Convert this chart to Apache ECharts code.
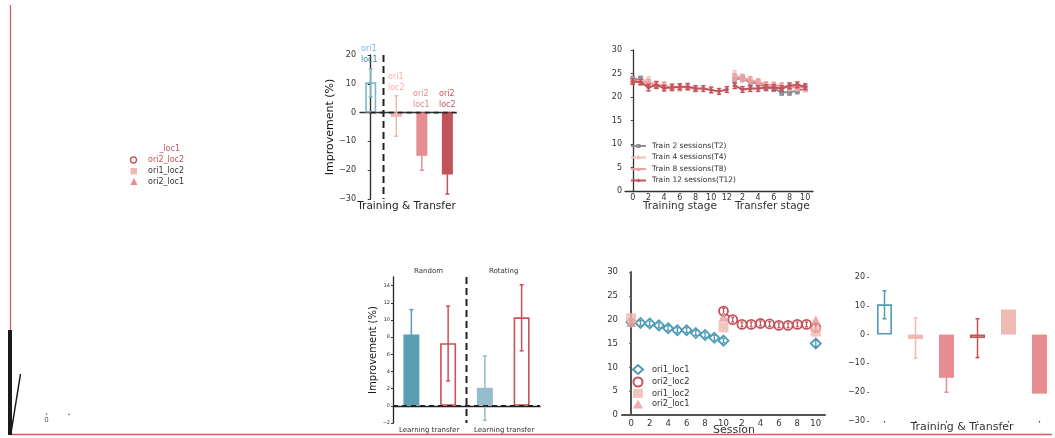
<!DOCTYPE html>
<html><head><meta charset="utf-8">
<script src="https://cdn.jsdelivr.net/npm/echarts@6/dist/echarts.min.js"></script>
<style>html,body{margin:0;padding:0;background:#fff}#c{width:1055px;height:438px}</style>
</head><body><div id="c"></div>
<script>
// ---------- Panel A : Training & Transfer (top) ----------
const aCats = ['ori1 loc1', 'ori1 loc2', 'ori2 loc1', 'ori2 loc2'];
const aPos = [0, 1, 2, 3];
const aVals = [10.5, -1.5, -15, -21.5];
const aLow = [5.5, -8.2, -20, -28.3];
const aHigh = [15.2, 5.8, -10, -14.7];

// ---------- Panel B : training / transfer curves ----------
const bTrainSessions = [0, 1, 2, 3, 4, 5, 6, 7, 8, 9, 10, 11, 12];
const bTransferSessions = [1, 2, 3, 4, 5, 6, 7, 8, 9, 10];
const bNames = ['Train 2 sessions(T2)', 'Train 4 sessions(T4)', 'Train 8 sessions(T8)', 'Train 12 sessions(T12)'];
const t2Train = [23.8, 23.8, 23.0];
const t2TrainErr = [0.6, 0.6, 0.6];
const t2Transfer = [23.8, 24.0, 23.0, 23.0, 22.0, 21.8, 21.0, 21.0, 21.3, 21.8];
const t2TransferErr = [0.8, 0.7, 0.7, 0.6, 0.6, 0.6, 0.6, 0.6, 0.6, 0.6];
const t4Train = [23.3, 23.3, 23.6, 22.5, 22.6];
const t4TrainErr = [0.6, 0.6, 0.7, 0.7, 0.6];
const t4Transfer = [24.8, 23.9, 23.6, 23.3, 22.6, 22.6, 22.3, 22.0, 22.0, 21.8];
const t4TransferErr = [0.8, 0.7, 0.7, 0.6, 0.6, 0.6, 0.6, 0.6, 0.6, 0.7];
const t8Train = [23.4, 23.2, 23.0, 22.5, 22.4, 22.1, 22.0, 22.2, 21.8];
const t8TrainErr = [0.6, 0.6, 0.7, 0.7, 0.7, 0.7, 0.7, 0.7, 0.6];
const t8Transfer = [24.2, 24.1, 23.6, 23.1, 22.6, 22.4, 22.4, 22.1, 22.2, 22.0];
const t8TransferErr = [0.7, 0.7, 0.7, 0.6, 0.6, 0.6, 0.6, 0.6, 0.6, 0.6];
const t12Train = [23.3, 23.2, 22.0, 22.6, 21.9, 22.0, 22.2, 22.2, 21.8, 21.8, 21.5, 21.2, 21.6];
const t12TrainErr = [0.6, 0.6, 0.7, 0.7, 0.6, 0.6, 0.6, 0.6, 0.6, 0.6, 0.6, 0.6, 0.6];
const t12Transfer = [22.4, 21.6, 21.8, 21.8, 22.0, 22.0, 21.8, 22.4, 22.6, 22.2];
const t12TransferErr = [0.6, 0.6, 0.6, 0.6, 0.6, 0.6, 0.6, 0.6, 0.6, 0.6];

// ---------- Panel C : Random / Rotating ----------
const cCats = ['Random learning', 'Random transfer', 'Rotating learning', 'Rotating transfer'];
const cVals = [8.3, 7.3, 2.1, 10.3];
const cLow = [5.4, 2.9, -1.7, 6.4];
const cHigh = [11.2, 11.6, 5.8, 14.1];

// ---------- Panel D : sessions ----------
const dTrainSessions = [0, 1, 2, 3, 4, 5, 6, 7, 8, 9, 10];
const dTransferSessions = [1, 2, 3, 4, 5, 6, 7, 8, 9, 10];
const dNames = ['ori1_loc1', 'ori2_loc2', 'ori1_loc2', 'ori2_loc1'];
const ori1loc1Train = [19.5, 19.3, 19.2, 18.8, 18.2, 17.8, 17.8, 17.2, 16.8, 16.2, 15.6];
const ori1loc1TrainErr = [0.6, 0.5, 0.5, 0.5, 0.5, 0.5, 0.5, 0.5, 0.5, 0.5, 0.5];
const ori1loc1Post = 15.0, ori1loc1PostErr = 0.6;
const ori2loc2Mid = 21.8, ori2loc2MidErr = 0.6;
const ori2loc2Transfer = [20.0, 19.0, 19.0, 19.2, 19.1, 18.8, 18.8, 19.0, 19.0, 18.3];
const ori2loc2TransferErr = [0.5, 0.5, 0.5, 0.5, 0.5, 0.5, 0.5, 0.5, 0.5, 0.6];
const ori1loc2Tests = [20.3, 18.4, 17.5];   // pre, mid, post
const ori2loc1Tests = [19.5, 20.6, 19.9];   // pre, mid, post

// ---------- Panel E : Training & Transfer (bottom) ----------
const eCats = ['ori1_loc1', 'ori1_loc2', 'ori2_loc1', 'ori2_loc2', 'ori1_loc2 b', 'ori2_loc1 b'];
const eVals = [10.5, -1.5, -15, -1.2, 8.7, -20.5];
const eLow = [5.5, -8.2, -20, -8.0, null, null];
const eHigh = [15.2, 5.8, -10, 5.5, null, null];

// ---------- helpers ----------
const FONT = 'DejaVu Sans';
const BLUE = '#4f9bb5', LBLUE = '#7db7ca', PALE = '#f2b7b0', PINK = '#e78d91', RED = '#c4525a', GRAY = '#8a8f98';
const minus = v => String(v).replace('-', '\u2212');

function errSeries(xi, yi, xs, lo, hi, color, cap, w, z) {
  const data = [];
  xs.forEach((x, i) => { if (lo[i] != null) data.push([x, lo[i], hi[i]]); });
  return {
    type: 'custom', xAxisIndex: xi, yAxisIndex: yi, z: z, silent: true,
    encode: { x: 0, y: [1, 2] }, data,
    renderItem(params, api) {
      const x = api.value(0);
      const p1 = api.coord([x, api.value(1)]);
      const p2 = api.coord([x, api.value(2)]);
      const st = { stroke: color, lineWidth: w };
      return { type: 'group', children: [
        { type: 'line', shape: { x1: p1[0], y1: p1[1], x2: p2[0], y2: p2[1] }, style: st },
        { type: 'line', shape: { x1: p1[0] - cap, y1: p1[1], x2: p1[0] + cap, y2: p1[1] }, style: st },
        { type: 'line', shape: { x1: p2[0] - cap, y1: p2[1], x2: p2[0] + cap, y2: p2[1] }, style: st }
      ]};
    }
  };
}
function vDash(xi, yi, x, halfBand) {
  return {
    type: 'custom', xAxisIndex: xi, yAxisIndex: yi, z: 5, silent: true, data: [[x, 0]],
    renderItem(params, api) {
      const cs = params.coordSys;
      let px = api.coord([api.value(0), 0])[0];
      if (halfBand) px += api.size([1, 0])[0] / 2;
      return { type: 'line', shape: { x1: px, y1: cs.y, x2: px, y2: cs.y + cs.height },
        style: { stroke: '#222', lineWidth: 2, lineDash: [7, 4] } };
    }
  };
}
function hDash(xi, yi, xStart, extendRight) {
  return {
    type: 'custom', xAxisIndex: xi, yAxisIndex: yi, z: 5, silent: true, data: [[xStart, 0]],
    renderItem(params, api) {
      const cs = params.coordSys;
      const p = api.coord([api.value(0), 0]);
      const x1 = xStart == null ? cs.x : p[0];
      return { type: 'line', shape: { x1: x1, y1: p[1], x2: cs.x + cs.width + extendRight, y2: p[1] },
        style: { stroke: '#222', lineWidth: 1.8, lineDash: [5, 4] } };
    }
  };
}
const hollow = c => ({ color: 'rgba(0,0,0,0)', borderColor: c, borderWidth: 1.6 });
const filled = c => ({ color: c });

// build B series
const bTransferOffset = 12;
function bData(train, transfer) {
  const d = train.map((v, i) => [bTrainSessions[i], v]);
  d.push([12.5, '-']);
  transfer.forEach((v, i) => d.push([bTransferSessions[i] + bTransferOffset, v]));
  return d;
}
function bX(train, transfer) {
  return train.map((v, i) => bTrainSessions[i]).concat(transfer.map((v, i) => bTransferSessions[i] + bTransferOffset));
}
function bLo(m, e) { return m.map((v, i) => v - e[i]); }
function bHi(m, e) { return m.map((v, i) => v + e[i]); }
const bSets = [
  [t2Train, t2TrainErr, t2Transfer, t2TransferErr, GRAY, 'rect', 5],
  [t4Train, t4TrainErr, t4Transfer, t4TransferErr, '#f4c0bb', 'circle', 5],
  [t8Train, t8TrainErr, t8Transfer, t8TransferErr, '#ec9ea0', 'triangle', 6],
  [t12Train, t12TrainErr, t12Transfer, t12TransferErr, RED, 'diamond', 5]
];
const bSeries = [];
bSets.forEach((s, k) => {
  const [tr, tre, tf, tfe, col, sym, sz] = s;
  bSeries.push({
    name: bNames[k], type: 'line', xAxisIndex: 1, yAxisIndex: 1, z: 3 + k,
    data: bData(tr, tf), symbol: sym, symbolSize: sz, connectNulls: false,
    lineStyle: { color: col, width: 2 }, itemStyle: { color: col }
  });
  bSeries.push(errSeries(1, 1, bX(tr, tf), bLo(tr, tre).concat(bLo(tf, tfe)), bHi(tr, tre).concat(bHi(tf, tfe)), col, 2.2, 1.5, 3 + k));
});

// D series
const dTransferOffset = 10;
const dTestX = [0, 10, 20];
const d1Data = ori1loc1Train.map((v, i) => [dTrainSessions[i], v]).concat([[15, '-'], [dTransferSessions[9] + dTransferOffset, ori1loc1Post]]);
const d1X = dTrainSessions.concat([dTransferSessions[9] + dTransferOffset]);
const d1Lo = ori1loc1Train.map((v, i) => v - ori1loc1TrainErr[i]).concat([ori1loc1Post - ori1loc1PostErr]);
const d1Hi = ori1loc1Train.map((v, i) => v + ori1loc1TrainErr[i]).concat([ori1loc1Post + ori1loc1PostErr]);
const d2Data = [[dTrainSessions[10], ori2loc2Mid]].concat(ori2loc2Transfer.map((v, i) => [dTransferSessions[i] + dTransferOffset, v]));
const d2X = [dTrainSessions[10]].concat(dTransferSessions.map(s => s + dTransferOffset));
const d2Lo = [ori2loc2Mid - ori2loc2MidErr].concat(ori2loc2Transfer.map((v, i) => v - ori2loc2TransferErr[i]));
const d2Hi = [ori2loc2Mid + ori2loc2MidErr].concat(ori2loc2Transfer.map((v, i) => v + ori2loc2TransferErr[i]));

const axText = { fontFamily: FONT, color: '#333' };
const plain = (size, color) => ({ fontFamily: FONT, fontSize: size, fontWeight: 'normal', color: color });

const option = {
  animation: false,
  backgroundColor: '#fff',
  textStyle: { fontFamily: FONT },
  grid: [
    { left: 360, top: 55, width: 93, height: 144 },
    { left: 625, top: 50, width: 188, height: 141 },
    { left: 393, top: 277, width: 147, height: 146 },
    { left: 622, top: 272, width: 203, height: 143 },
    { left: 869, top: 277, width: 194, height: 144 }
  ],
  xAxis: [
    { gridIndex: 0, type: 'value', min: -0.42, max: 3.22, splitLine: { show: false },
      axisLine: { lineStyle: { color: '#333', width: 1.4 } }, axisTick: { show: false }, axisLabel: { show: false },
      name: 'Training & Transfer', nameLocation: 'middle', nameGap: 2,
      nameTextStyle: { fontFamily: FONT, fontSize: 10.5, color: '#222', verticalAlign: 'top' } },
    { gridIndex: 1, type: 'value', min: -1, max: 23, interval: 1, splitLine: { show: false },
      axisLine: { onZero: false, lineStyle: { color: '#333', width: 1.3 } },
      axisTick: { show: false },
      axisLabel: { ...axText, fontSize: 8, margin: 3, showMinLabel: false, showMaxLabel: false,
        formatter: v => (v >= 0 && v <= 12 && v % 2 === 0) ? String(v) : ((v > 12 && (v - bTransferOffset) % 2 === 0) ? String(v - bTransferOffset) : '') } },
    { gridIndex: 2, type: 'category', data: cCats, axisLine: { lineStyle: { color: '#222', width: 1.3 } },
      axisTick: { show: false }, axisLabel: { show: false } },
    { gridIndex: 3, type: 'value', min: -1, max: 21, interval: 1, splitLine: { show: false },
      axisLine: { onZero: false, lineStyle: { color: '#555', width: 2 } }, axisTick: { show: false },
      axisLabel: { ...axText, fontSize: 8.5, margin: 4, showMinLabel: false, showMaxLabel: false,
        formatter: v => (v >= 0 && v <= 10 && v % 2 === 0) ? String(v) : ((v > 10 && (v - dTransferOffset) % 2 === 0) ? String(v - dTransferOffset) : '') } },
    { gridIndex: 4, type: 'category', data: eCats, axisLine: { show: false, onZero: false },
      axisTick: { show: true, alignWithLabel: true, interval: 0, length: 1.5, lineStyle: { color: '#444', width: 1.2 } },
      axisLabel: { show: false, interval: 0 },
      name: 'Training & Transfer', nameLocation: 'middle', nameGap: 1,
      nameTextStyle: { fontFamily: FONT, fontSize: 11, color: '#333', verticalAlign: 'top' } }
  ],
  yAxis: [
    { gridIndex: 0, type: 'value', min: -30, max: 20, interval: 10, splitLine: { show: false },
      axisLine: { show: true, lineStyle: { color: '#333', width: 1.4 } },
      axisTick: { show: true, length: 3, lineStyle: { color: '#333' } },
      axisLabel: { ...axText, fontSize: 8, margin: 4, formatter: minus },
      name: 'Improvement (%)', nameLocation: 'middle', nameGap: 23,
      nameTextStyle: { fontFamily: FONT, fontSize: 11, color: '#111' } },
    { gridIndex: 1, type: 'value', min: 0, max: 30, interval: 5, splitLine: { show: false },
      axisLine: { show: true, lineStyle: { color: '#333', width: 1.3 } },
      axisTick: { show: true, length: 2, lineStyle: { color: '#333' } },
      axisLabel: { ...axText, fontSize: 8, margin: 3 } },
    { gridIndex: 2, type: 'value', min: -2, max: 15, interval: 2, splitLine: { show: false },
      axisLine: { show: true, lineStyle: { color: '#222', width: 1.3 } },
      axisTick: { show: true, length: 2, lineStyle: { color: '#333' } },
      axisLabel: { ...axText, fontSize: 5, margin: 3, showMaxLabel: false, formatter: minus },
      name: 'Improvement (%)', nameLocation: 'middle', nameGap: 11,
      nameTextStyle: { fontFamily: FONT, fontSize: 10, color: '#111' } },
    { gridIndex: 3, type: 'value', min: 0, max: 30, interval: 5, splitLine: { show: false },
      axisLine: { show: true, lineStyle: { color: '#555', width: 2 } },
      axisTick: { show: true, length: 2, lineStyle: { color: '#555' } },
      axisLabel: { ...axText, fontSize: 8.5, margin: 4 } },
    { gridIndex: 4, type: 'value', min: -30, max: 20, interval: 10, splitLine: { show: false },
      axisLine: { show: false }, axisTick: { show: true, length: 1.5, lineStyle: { color: '#444', width: 1.2 } },
      axisLabel: { ...axText, fontSize: 8, margin: 4, formatter: minus } }
  ],
  legend: [
    { data: bNames, orient: 'vertical', left: 630, top: 142, padding: 0, itemGap: 3.5, itemWidth: 15, itemHeight: 5,
      textStyle: { fontFamily: FONT, fontSize: 7.5, lineHeight: 8, color: '#333', padding: [0, 0, 0, 1] } },
    { data: [
        { name: 'ori1_loc1', icon: 'diamond', itemStyle: { color: '#fff', borderColor: BLUE, borderWidth: 2 } },
        { name: 'ori2_loc2', icon: 'circle', itemStyle: { color: '#fff', borderColor: RED, borderWidth: 2 } },
        { name: 'ori1_loc2', icon: 'rect', itemStyle: { color: PALE, borderWidth: 0 } },
        { name: 'ori2_loc1', icon: 'triangle', itemStyle: { color: '#eb979a', borderWidth: 0 } }
      ],
      orient: 'vertical', left: 632, top: 364, padding: 0, itemGap: 1.5, itemWidth: 10, itemHeight: 9,
      textStyle: { fontFamily: FONT, fontSize: 8.3, lineHeight: 9, color: '#333', padding: [0, 0, 0, 4] } }
  ],
  title: [
    { text: '{a|ori1}\n{b|loc1}', left: 361, top: 43, padding: 0, textStyle: { rich: {
        a: { fontFamily: FONT, fontSize: 8, fontWeight: 'normal', color: '#7ab8cc', lineHeight: 11 },
        b: { fontFamily: FONT, fontSize: 8, fontWeight: 'normal', color: '#3d8caa', lineHeight: 11 } } } },
    { text: 'ori1\nloc2', left: 388, top: 71, padding: 0, textStyle: { ...plain(8, '#f2b0aa'), lineHeight: 11 } },
    { text: 'ori2\nloc1', left: 413, top: 88, padding: 0, textStyle: { ...plain(8, '#e2888c'), lineHeight: 11 } },
    { text: 'ori2\nloc2', left: 439, top: 88, padding: 0, textStyle: { ...plain(8, '#c4525a'), lineHeight: 11 } },
    { text: 'Training stage', left: 643, top: 201, padding: 0, textStyle: plain(10.5, '#333') },
    { text: 'Transfer stage', left: 735, top: 201, padding: 0, textStyle: plain(10.5, '#333') },
    { text: 'Random', left: 414, top: 268, padding: 0, textStyle: plain(7, '#333') },
    { text: 'Rotating', left: 489, top: 268, padding: 0, textStyle: plain(7, '#333') },
    { text: 'Learning transfer', left: 399, top: 427, padding: 0, textStyle: plain(7, '#333') },
    { text: 'Learning transfer', left: 474, top: 427, padding: 0, textStyle: plain(7, '#333') },
    { text: 'Session', left: 713, top: 425, padding: 0, textStyle: plain(11, '#333') }
  ],
  graphic: [
    { type: 'line', shape: { x1: 10.5, y1: 5, x2: 10.5, y2: 434 }, style: { stroke: '#d65c5c', lineWidth: 1.3 } },
    { type: 'line', shape: { x1: 10, y1: 434.5, x2: 1052, y2: 434.5 }, style: { stroke: '#d65c5c', lineWidth: 1.3 } },
    { type: 'rect', shape: { x: 8, y: 330, width: 4, height: 105 }, style: { fill: '#1a1a1a' } },
    { type: 'line', shape: { x1: 11, y1: 433, x2: 20.5, y2: 374 }, style: { stroke: '#1a1a1a', lineWidth: 1.5 } },
    { type: 'text', x: 46.5, y: 420, style: { text: '0', font: '7px DejaVu Sans', fill: '#555', align: 'center', verticalAlign: 'middle' } },
    { type: 'circle', shape: { cx: 46.5, cy: 414, r: 0.8 }, style: { fill: '#555' } },
    { type: 'circle', shape: { cx: 69, cy: 414.5, r: 0.8 }, style: { fill: '#555' } },
    { type: 'text', x: 180, y: 149, style: { text: '_loc1', font: '8px DejaVu Sans', fill: '#c4525a', align: 'right', verticalAlign: 'middle' } },
    { type: 'circle', shape: { cx: 133.5, cy: 160, r: 3 }, style: { fill: '#fff', stroke: RED, lineWidth: 1.3 } },
    { type: 'text', x: 148, y: 160, style: { text: 'ori2_loc2', font: '8px DejaVu Sans', fill: '#c4525a', verticalAlign: 'middle' } },
    { type: 'rect', shape: { x: 130.5, y: 168, width: 6.5, height: 6.5 }, style: { fill: PALE } },
    { type: 'text', x: 148, y: 171, style: { text: 'ori1_loc2', font: '8px DejaVu Sans', fill: '#333', verticalAlign: 'middle' } },
    { type: 'polygon', shape: { points: [[134, 178], [130.5, 185], [137.5, 185]] }, style: { fill: '#e8898c' } },
    { type: 'text', x: 148, y: 182, style: { text: 'ori2_loc1', font: '8px DejaVu Sans', fill: '#333', verticalAlign: 'middle' } }
  ],
  series: [
    // Panel A
    errSeries(0, 0, aPos, aLow, aHigh, null, 2, 1.5, 1),
    { type: 'bar', xAxisIndex: 0, yAxisIndex: 0, barWidth: 11, z: 2,
      data: aVals.map((v, i) => ({ value: [aPos[i], v], itemStyle: [hollow(LBLUE), filled(PALE), filled(PINK), filled(RED)][i] })) },
    vDash(0, 0, 0.5, false),
    hDash(0, 0, 0, 5),
    // Panel B
    ...bSeries,
    // Panel C
    errSeries(2, 2, [0, 1, 2, 3], cLow, cHigh, null, 2, 1.5, 1),
    { type: 'bar', xAxisIndex: 2, yAxisIndex: 2, barWidth: 16, z: 2,
      data: cVals.map((v, i) => ({ value: v, itemStyle: [filled('#5b9db3'), hollow('#cc4f55'), filled('#95bccd'), hollow('#cc4f55')][i] })) },
    vDash(2, 2, 1, true),
    hDash(2, 2, null, 0),
    // Panel D
    { name: 'ori1_loc1', type: 'line', xAxisIndex: 3, yAxisIndex: 3, z: 3, data: d1Data, symbol: 'diamond', symbolSize: 10,
      connectNulls: false, lineStyle: { color: BLUE, width: 1.8 }, itemStyle: { color: '#fff', borderColor: BLUE, borderWidth: 1.8 } },
    errSeries(3, 3, d1X, d1Lo, d1Hi, BLUE, 1.5, 1.3, 4),
    { name: 'ori2_loc2', type: 'line', xAxisIndex: 3, yAxisIndex: 3, z: 5, data: d2Data, symbol: 'circle', symbolSize: 9,
      lineStyle: { color: RED, width: 1.8 }, itemStyle: { color: '#fff', borderColor: RED, borderWidth: 1.8 } },
    errSeries(3, 3, d2X, d2Lo, d2Hi, RED, 1.5, 1.3, 6),
    { name: 'ori1_loc2', type: 'scatter', xAxisIndex: 3, yAxisIndex: 3, z: 7, symbol: 'rect', symbolSize: 10,
      data: ori1loc2Tests.map((v, i) => [dTestX[i], v]), itemStyle: { color: PALE } },
    { name: 'ori2_loc1', type: 'scatter', xAxisIndex: 3, yAxisIndex: 3, z: 8, symbol: 'triangle', symbolSize: 10,
      data: ori2loc1Tests.map((v, i) => [dTestX[i], v]), itemStyle: { color: '#eb979a' } },
    // Panel E
    errSeries(4, 4, [0, 1, 2, 3, 4, 5], eLow, eHigh, null, 2, 1.5, 1),
    { type: 'bar', xAxisIndex: 4, yAxisIndex: 4, barWidth: 15, z: 2,
      data: eVals.map((v, i) => ({ value: v, itemStyle: [hollow(BLUE), filled(PALE), filled(PINK), hollow(RED), filled('#f0bab4'), filled(PINK)][i] })) }
  ]
};
// colour the error bars like their bars
const aErrCol = [LBLUE, PALE, PINK, RED], cErrCol = ['#5b9db3', '#cc4f55', '#95bccd', '#cc4f55'], eErrCol = [BLUE, PALE, PINK, RED];
function colorize(s, cols) {
  const orig = s.renderItem;
  s.renderItem = function (params, api) {
    const g = orig(params, api);
    const c = cols[Math.round(api.value(0))];
    g.children.forEach(ch => ch.style.stroke = c);
    return g;
  };
}
colorize(option.series[0], aErrCol);
colorize(option.series.find(s => s.xAxisIndex === 2 && s.type === 'custom' && s.encode), cErrCol);
colorize(option.series.find(s => s.xAxisIndex === 4 && s.type === 'custom'), eErrCol);

const chart = echarts.init(document.getElementById('c'), null, { renderer: 'canvas' });
chart.setOption(option);
</script>
</body></html>
